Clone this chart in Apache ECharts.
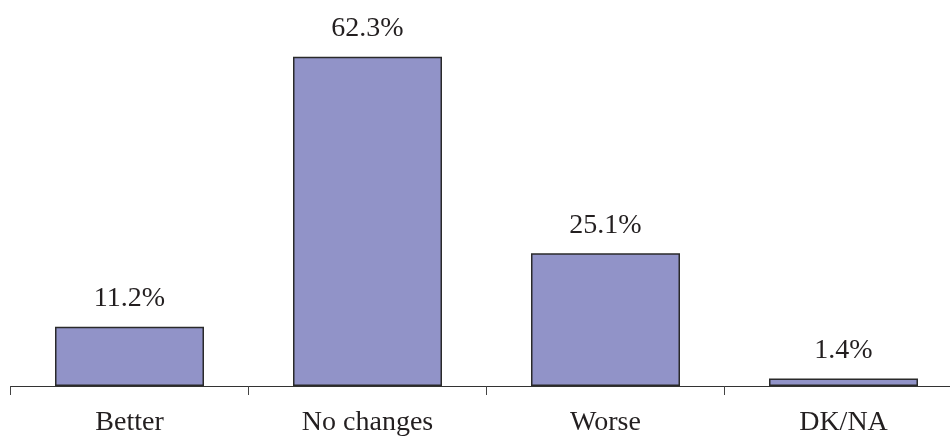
<!DOCTYPE html>
<html>
<head>
<meta charset="utf-8">
<script src="https://cdn.jsdelivr.net/npm/echarts@6/dist/echarts.min.js"></script>
<style>
  html, body { margin: 0; padding: 0; background: #fff; overflow: hidden; width: 950px; height: 437px; }
  /* the canvas is a bit wider than the page so the axis runs off the right edge */
  #chart { width: 975px; height: 437px; }
</style>
</head>
<body>
<div id="chart"></div>
<script>
// Survey answer shares (%)
const categories = ['Better', 'No changes', 'Worse', 'DK/NA'];
const shares = [11.2, 62.3, 25.1, 1.4];

const chart = echarts.init(document.getElementById('chart'));
const serif = '"Liberation Serif", "DejaVu Serif", serif';

chart.setOption({
  animation: false,
  grid: { left: 10.5, width: 952, top: 16, bottom: 50, containLabel: false },
  xAxis: {
    type: 'category',
    data: categories,
    axisLine: { lineStyle: { color: '#333', width: 1 } },
    axisTick: { show: true, length: 9, lineStyle: { color: '#444', width: 1 } },
    axisLabel: { color: '#231f20', fontFamily: serif, fontSize: 28, margin: 23 }
  },
  yAxis: {
    type: 'value',
    min: 0,
    max: 70,
    show: false,
    splitLine: { show: false }
  },
  series: [{
    type: 'bar',
    data: shares,
    barWidth: 149,
    itemStyle: { color: '#9193c8', borderColor: '#2a2a2a', borderWidth: 1.5 },
    label: {
      show: true,
      position: 'top',
      distance: 14,
      color: '#231f20',
      fontFamily: serif,
      fontSize: 28,
      formatter: p => p.value.toFixed(1) + '%'
    }
  }]
});
</script>
</body>
</html>
